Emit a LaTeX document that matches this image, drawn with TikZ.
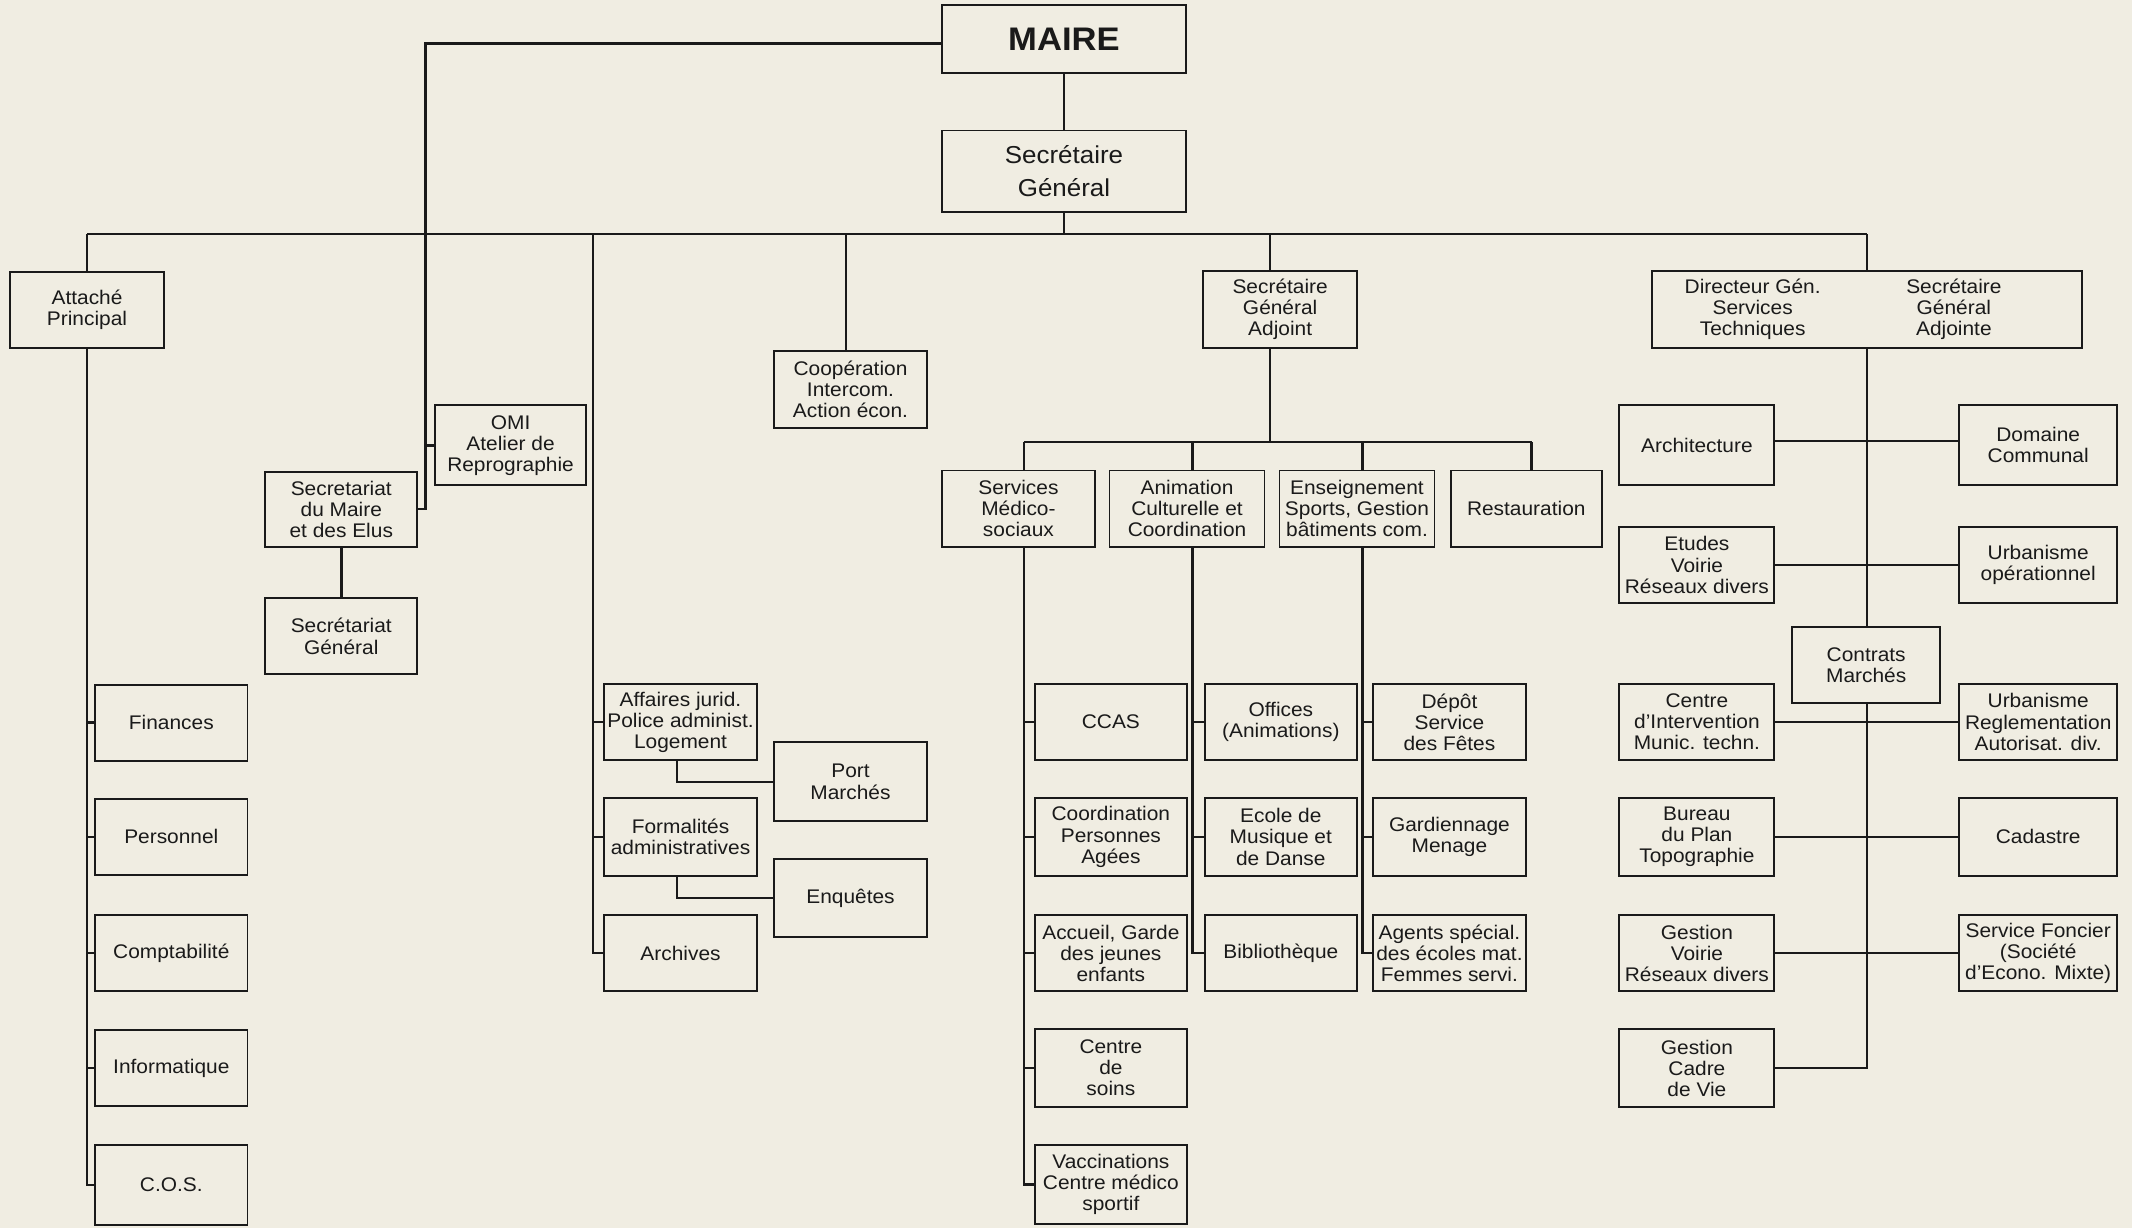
\documentclass[tikz,border=0pt]{standalone}
\usepackage{fontspec}
\setmainfont{Liberation Sans}[FakeStretch=1.06]
\definecolor{paper}{HTML}{F0EDE2}
\definecolor{ink}{HTML}{1A1A1A}
\pgfdeclarelayer{back}
\pgfdeclarelayer{bg}
\pgfsetlayers{back,bg,main}
\begin{document}
\begin{tikzpicture}[x=1pt,y=-1pt,
  bx/.style={draw=ink, line width=1.4pt, fill=paper, inner sep=0pt, align=center,
    font=\fontsize{14.5}{15.5}\selectfont, text=ink},
  plain/.style={inner sep=0pt, align=center, font=\fontsize{14.5}{15.5}\selectfont, text=ink},
  ln/.style={draw=ink, line width=1.8pt},
  wA/.style={bx, minimum width=112pt, minimum height=56pt},
  wB/.style={bx, minimum width=114pt, minimum height=56pt},
  wC/.style={bx, minimum width=116pt, minimum height=56pt}]
\begin{pgfonlayer}{back}
\fill[paper] (0,0) rectangle (1568,903);
\end{pgfonlayer}
\useasboundingbox (0,0) rectangle (1568,903);

% top
\node[bx, minimum width=179pt, minimum height=50pt, font=\fontsize{24}{27}\selectfont\bfseries] (maire) at (782.5,29) {MAIRE};
\node[bx, minimum width=179pt, minimum height=60pt, font=\fontsize{18}{24}\selectfont] (sg) at (782.5,126) {Secrétaire\\Général};

% left branch
\node[bx, minimum width=113pt, minimum height=56pt] (attache) at (64,228) {Attaché\\Principal};
\node[wA] (fin) at (126,531.5) {Finances};
\node[wA] (pers) at (126,615.5) {Personnel};
\node[wA] (compta) at (126,701) {Comptabilité};
\node[wA] (info) at (126,785.5) {Informatique};
\node[wA, minimum height=59pt] (cos) at (126,871.5) {C.O.S.};

\node[bx, minimum width=111pt, minimum height=59pt] (omi) at (375.5,327.5) {OMI\\Atelier de\\Reprographie};
\node[wA, minimum height=55pt] (secm) at (251,374.5) {Secretariat\\du Maire\\et des Elus};
\node[wA] (secg) at (251,468) {Secrétariat\\Général};

\node[bx, minimum width=113pt, minimum height=57pt] (coop) at (625.5,286.5) {Coopération\\Intercom.\\Action écon.};

\node[bx, minimum width=113pt, minimum height=56pt] (aff) at (500.5,531) {Affaires jurid.\\Police administ.\\Logement};
\node[bx, minimum width=113pt, minimum height=57pt] (form) at (500.5,615.5) {Formalités\\administratives};
\node[bx, minimum width=113pt, minimum height=56pt] (arch) at (500.5,701) {Archives};
\node[bx, minimum width=113pt, minimum height=58pt] (port) at (625.5,575) {Port\\Marchés};
\node[bx, minimum width=113pt, minimum height=57pt] (enq) at (625.5,660.5) {Enquêtes};

% SGA branch
\node[bx, minimum width=113pt, minimum height=57pt] (sga) at (941.5,227.5) {Secrétaire\\Général\\Adjoint};
\node[wA] (smed) at (749,374) {Services\\Médico-\\sociaux};
\node[wB] (anim) at (873,374) {Animation\\Culturelle et\\Coordination};
\node[wB] (ens) at (998,374) {Enseignement\\Sports, Gestion\\bâtiments com.};
\node[bx, minimum width=111pt, minimum height=56pt] (rest) at (1122.5,374) {Restauration};

\node[wA] (ccas) at (817,531) {CCAS};
\node[wA, minimum height=57pt] (coord) at (817,615.5) {Coordination\\Personnes\\Agées};
\node[wA] (accueil) at (817,701) {Accueil, Garde\\des jeunes\\enfants};
\node[wA, minimum height=57pt] (soins) at (817,785.5) {Centre\\de\\soins};
\node[wA, minimum height=58pt] (vacc) at (817,871) {Vaccinations\\Centre médico\\sportif};

\node[wA] (offices) at (942,531) {Offices\\(Animations)};
\node[wA, minimum height=57pt] (ecole) at (942,615.5) {Ecole de\\Musique et\\de Danse};
\node[wA] (biblio) at (942,701) {Bibliothèque};

\node[wA] (depot) at (1066,531) {Dépôt\\Service\\des Fêtes};
\node[wA, minimum height=57pt] (gard) at (1066,615.5) {Gardiennage\\Menage};
\node[wA] (agents) at (1066,701) {Agents spécial.\\des écoles mat.\\Femmes servi.};

% technical branch
\node[bx, minimum width=316pt, minimum height=57pt] (dir) at (1373,227.5) {};
\node[plain] (dirL) at (1289,227.5) {Directeur Gén.\\Services\\Techniques};
\node[plain] (dirR) at (1437,227.5) {Secrétaire\\Général\\Adjointe};

\node[wB, minimum height=59pt] (archi) at (1248,327.5) {Architecture};
\node[wB] (etudes) at (1248,415.5) {Etudes\\Voirie\\Réseaux divers};
\node[wB] (centre) at (1248,531) {Centre\\d'Intervention\\Munic. techn.};
\node[wB, minimum height=57pt] (bureau) at (1248,615.5) {Bureau\\du Plan\\Topographie};
\node[wB] (gvoirie) at (1248,701) {Gestion\\Voirie\\Réseaux divers};
\node[wB, minimum height=57pt] (gcadre) at (1248,785.5) {Gestion\\Cadre\\de Vie};

\node[wC, minimum height=59pt] (domaine) at (1499,327.5) {Domaine\\Communal};
\node[wC] (urbop) at (1499,415.5) {Urbanisme\\opérationnel};
\node[wC] (urbreg) at (1499,531) {Urbanisme\\Reglementation\\Autorisat. div.};
\node[wC, minimum height=57pt] (cadastre) at (1499,615.5) {Cadastre};
\node[wC] (foncier) at (1499,701) {Service Foncier\\(Société\\d'Econo. Mixte)};

\node[bx, minimum width=109pt, minimum height=56pt] (contrats) at (1372.5,489) {Contrats\\Marchés};

% connectors
\coordinate (bus) at (0,172);
\coordinate (sgab) at (0,325);
\coordinate (jL) at (313,0);
\coordinate (jM) at (436,0);
\begin{pgfonlayer}{bg}
\draw[ln] (maire.south) -- (sg.north);
\draw[ln] ([yshift=-3pt]maire.west) -| (jL |- secm.east) -- (secm.east);
\draw[ln] (jL |- omi.west) -- (omi.west);
\draw[ln] (sg.south) -- (sg.south |- bus);
\draw[ln] (attache.north |- bus) -- (dir.north |- bus);
\draw[ln] (attache.north |- bus) -- (attache.north);
\draw[ln] (secm.south) -- (secg.north);
% attache column
\draw[ln] (attache.south) -- (attache.south |- cos.west) -- (cos.west);
\foreach \n in {fin,pers,compta,info}
  \draw[ln] (attache.south |- \n.west) -- (\n.west);
% middle-left column
\draw[ln] (jM |- bus) -- (jM |- arch.west) -- (arch.west);
\foreach \n in {aff,form}
  \draw[ln] (jM |- \n.west) -- (\n.west);
\draw[ln] ([xshift=-2.5pt]aff.south) |- (port.west);
\draw[ln] ([xshift=-2.5pt]form.south) |- (enq.west);
\draw[ln] ([xshift=-3.5pt]coop.north) -- ([xshift=-3.5pt]coop.north |- bus);
% SGA
\draw[ln] ([xshift=-7.5pt]sga.north) -- ([xshift=-7.5pt]sga.north |- bus);
\draw[ln] ([xshift=-7.5pt]sga.south) -- ([xshift=-7.5pt]sga.south |- sgab);
\draw[ln] ([xshift=4pt]smed.north |- sgab) -- ([xshift=4pt]rest.north |- sgab);
\foreach \n in {smed,anim,ens,rest}
  \draw[ln] ([xshift=4pt]\n.north) -- ([xshift=4pt]\n.north |- sgab);
\draw[ln] ([xshift=4pt]smed.south) -- ([xshift=4pt]smed.south |- vacc.west) -- (vacc.west);
\foreach \n in {ccas,coord,accueil,soins}
  \draw[ln] ([xshift=4pt]smed.south |- \n.west) -- (\n.west);
\draw[ln] ([xshift=4pt]anim.south) -- ([xshift=4pt]anim.south |- biblio.west) -- (biblio.west);
\foreach \n in {offices,ecole}
  \draw[ln] ([xshift=4pt]anim.south |- \n.west) -- (\n.west);
\draw[ln] ([xshift=4pt]ens.south) -- ([xshift=4pt]ens.south |- agents.west) -- (agents.west);
\foreach \n in {depot,gard}
  \draw[ln] ([xshift=4pt]ens.south |- \n.west) -- (\n.west);
% technical
\draw[ln] (dir.north) -- (dir.north |- bus);
\draw[ln] (dir.south) -- (dir.south |- gcadre.east) -- (gcadre.east);
\draw[ln] ([yshift=3pt]archi.east) -- ([yshift=3pt]domaine.west);
\draw[ln] (etudes.east) -- (urbop.west);
\draw[ln] (centre.east) -- (urbreg.west);
\draw[ln] (bureau.east) -- (cadastre.west);
\draw[ln] (gvoirie.east) -- (foncier.west);
\end{pgfonlayer}
\end{tikzpicture}
\end{document}
